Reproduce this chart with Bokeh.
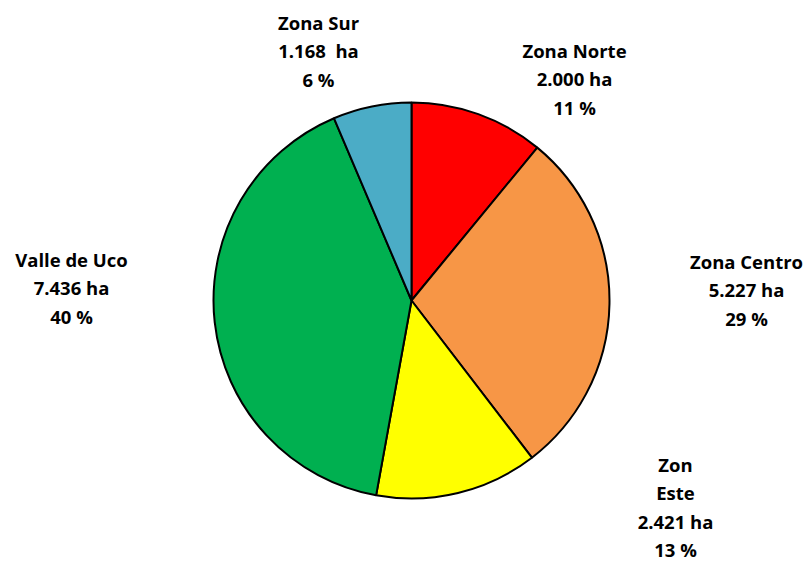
import math
from bokeh.plotting import figure
from bokeh.models import ColumnDataSource, Range1d
from bokeh.core.properties import value
from bokeh.embed import file_html
from bokeh.resources import INLINE

# ---- data ----
zones = ["Zona Norte", "Zona Centro", "Zon\nEste", "Valle de Uco", "Zona Sur"]
hectares = [2000, 5227, 2421, 7436, 1168]
ha_labels = ["2.000 ha", "5.227 ha", "2.421 ha", "7.436 ha", "1.168  ha"]
pct_labels = ["11 %", "29 %", "13 %", "40 %", "6 %"]
colors = ["#FF0000", "#F79646", "#FFFF00", "#00B050", "#4BACC6"]

# ---- layout (screen pixel positions of label block centres) ----
label_x = [574, 746, 675, 71, 318]
label_top = [50, 261, 464, 259, 22]
line_h = 28.4
cx, cy, r = 411, 300, 198

W, H = 808, 562
p = figure(width=W, height=H, output_backend="svg", toolbar_location=None,
           x_range=Range1d(0, W), y_range=Range1d(562 - H, 562),
           min_border=0, tools="")
p.axis.visible = False
p.grid.visible = False
p.outline_line_color = None
p.background_fill_color = "white"
p.border_fill_color = "white"

total = sum(hectares)
starts, ends = [], []
acc = 0.0
for v in hectares:
    starts.append(math.pi / 2 - acc / total * 2 * math.pi)
    acc += v
    ends.append(math.pi / 2 - acc / total * 2 * math.pi)

src = ColumnDataSource(dict(x=[cx] * len(zones), y=[562 - cy] * len(zones),
                            start=starts, end=ends, color=colors))
p.wedge(x="x", y="y", radius=r, radius_units="data", start_angle="start",
        end_angle="end", direction="clock", fill_color="color",
        line_color="black", line_width=2, source=src)

tx, ty, tt = [], [], []
for i, z in enumerate(zones):
    lines = z.split("\n") + [ha_labels[i].replace("  ", "\u00a0 "), pct_labels[i]]
    for k, ln in enumerate(lines):
        tx.append(label_x[i])
        ty.append(562 - (label_top[i] + k * line_h))
        tt.append(ln)

p.text(x=tx, y=ty, text=tt, text_align="center", text_baseline="middle",
       text_font=value("Open Sans"), text_font_style="bold", text_font_size="18.5px",
       text_color="black")

open("out.html", "w").write(file_html(p, INLINE))
